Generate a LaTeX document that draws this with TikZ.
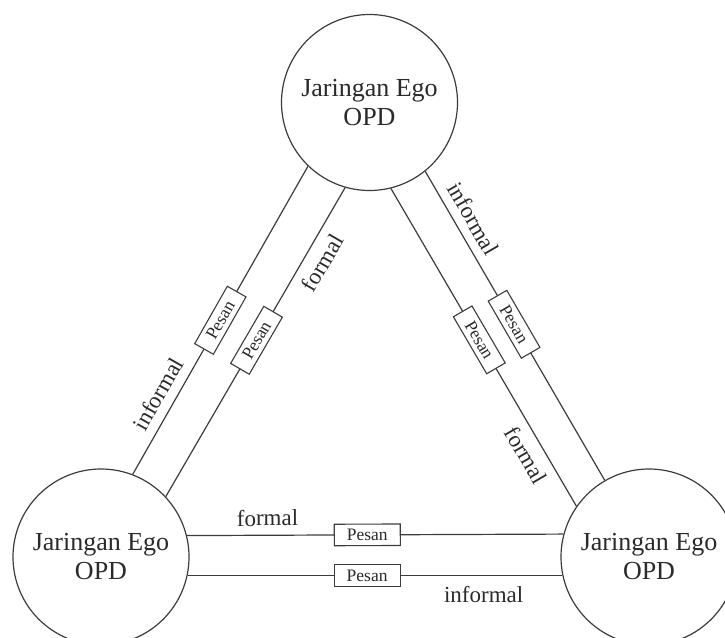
\documentclass[tikz,border=0pt]{standalone}
\usepackage{fontspec}
\setmainfont{Liberation Serif}
\definecolor{lc}{HTML}{3C3C3C}
\definecolor{tc}{HTML}{2A2A2A}
\begin{document}
\begin{tikzpicture}[x=1pt,y=-1pt,
  ego/.style={circle,draw=lc,line width=1.2pt,fill=white,minimum size=176pt,inner sep=0pt,align=center,text=tc,font=\fontsize{26}{29}\selectfont},
  link/.style={draw=lc,line width=1.2pt},
  msg/.style={draw=lc,line width=1.1pt,fill=white,minimum width=66pt,minimum height=21.5pt,inner sep=0pt,text=tc,font=\fontsize{17.5}{20}\selectfont,sloped},
  lab/.style={text=tc,font=\fontsize{23}{26}\selectfont,inner sep=0pt,sloped}]
\useasboundingbox (0,0) rectangle (725,637);
\node[ego] (T) at (369.5,102.5) {Jaringan Ego\\OPD};
\node[ego] (L) at (101,557) {Jaringan Ego\\OPD};
\node[ego] (R) at (649,557) {Jaringan Ego\\OPD};
% left side
\draw[link] (T.226.8) -- (L.69.1)
  node[msg,pos=0.5]{Pesan}
  node[lab,pos=0.768,above=9pt]{informal};
\draw[link] (T.254) -- (L.43.6)
  node[msg,pos=0.494]{Pesan}
  node[lab,pos=0.214,below=9pt]{formal};
% right side
\draw[link] (T.284.7) -- (R.145.4)
  node[msg,pos=0.4765]{Pesan}
  node[lab,pos=0.811,below=9pt]{formal};
\draw[link] (T.309.6) -- (R.120)
  node[msg,pos=0.495]{Pesan}
  node[lab,pos=0.182,above=9pt]{informal};
% bottom
\draw[link] (L.14.8) -- (R.165.2)
  node[msg,pos=0.479]{Pesan}
  node[lab,pos=0.214,above=8.5pt]{formal};
\draw[link] (L.-12.1) -- (R.192.1)
  node[msg,pos=0.479]{Pesan}
  node[lab,pos=0.79,below=10pt]{informal};
\end{tikzpicture}
\end{document}
